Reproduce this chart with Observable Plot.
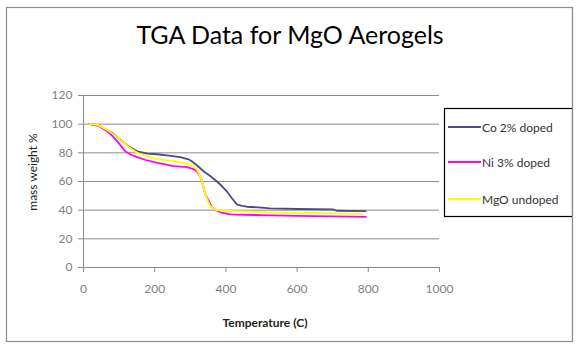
<!DOCTYPE html>
<html><head><meta charset="utf-8">
<script src="https://cdn.jsdelivr.net/npm/d3@7"></script>
<script src="https://cdn.jsdelivr.net/npm/@observablehq/plot@0.6"></script>
<style>
body{margin:0;background:#fff;}
#chart{position:relative;width:584px;height:352px;}
</style>
</head><body><div id="chart"></div>
<script>
const titleText = "TGA Data for MgO Aerogels";
const xLabel = "Temperature (C)";
const yLabel = "mass weight %";
const seriesNames = ["Co 2% doped", "Ni 3% doped", "MgO undoped"];
const seriesColors = ["#4a4a8c", "#ff00ff", "#ffff00"];
const xTicks = [0, 200, 400, 600, 800, 1000];
const yTicks = [0, 20, 40, 60, 80, 100, 120];

const coTemp = [16,40,58,80,100,114,130,151,180,207,240,272,295,305,320,338,355,375,390,403,418,431,445,459,500,524,600,700,711,793];
const coMass = [100,99.5,97,94,90,87,84,81,79.5,79,78,77,75.5,74,71,67,64,60,56.5,53,48,44,43,42.4,41.8,41.2,40.8,40.5,39.6,39.4];

const niTemp = [16,40,67,80,95,108,118,135,151,175,198,225,254,291,310,319,327,333,338,342,352,361,372,384,412,450,524,600,700,793];
const niMass = [100,99,95,92,88,84,81,78.5,77,75,73.5,72.2,70.7,70,68.5,67,64,60,55,51,46.5,42,40,38.5,37,36.8,36.4,36,35.6,35.3];

const mgTemp = [16,40,67,90,114,130,151,175,198,225,254,280,300,315,324,333,338,342,350,356,365,375,400,440,524,600,700,785];
const mgMass = [100,99.5,96,92,87,83.5,80,78,76,75,74,73,72,69.5,66,60,55,51,46,43,41,40,39.6,39.2,38.5,38.2,37.8,37.3];

const temps = [coTemp, niTemp, mgTemp];
const masses = [coMass, niMass, mgMass];
const data = [];
seriesNames.forEach((name, i) => {
  temps[i].forEach((t, j) => data.push({series: name, temp: t, mass: masses[i][j]}));
});

const W = 584, H = 352;
const plot = Plot.plot({
  width: W, height: H,
  marginLeft: 83, marginRight: 145, marginTop: 95, marginBottom: 85,
  style: {fontFamily: "Lato, 'Open Sans', sans-serif", fontSize: "12px", color: "#7f7f7f", background: "white"},
  x: {domain: [0, 1000], ticks: xTicks},
  y: {domain: [0, 120], ticks: yTicks},
  color: {domain: seriesNames, range: seriesColors},
  marks: [
    Plot.gridY(yTicks, {stroke: "#8c8c8c", strokeOpacity: 1, strokeWidth: 1}),
    Plot.ruleX([0], {stroke: "#8c8c8c"}),
    Plot.ruleY([0], {stroke: "#8c8c8c"}),
    Plot.axisX(xTicks, {tickSize: 5, tickPadding: 12, stroke: "#8c8c8c", fill: "#7f7f7f", label: null, fontSize: 12, tickFormat: d3.format("d")}),
    Plot.axisY(yTicks, {tickSize: 5, tickPadding: 6, stroke: "#8c8c8c", fill: "#7f7f7f", label: null, fontSize: 12, tickFormat: d3.format("d")}),
    Plot.line(data, {x: "temp", y: "mass", z: "series", stroke: "series", strokeWidth: 1.8, curve: "linear"})
  ]
});

const svg = d3.select(plot);
// outer chart border
svg.append("rect").attr("x", 6.5).attr("y", 7.5).attr("width", 566).attr("height", 334)
  .attr("fill", "none").attr("stroke", "#8c8c8c").attr("stroke-width", 1.2);
// title
svg.append("text").attr("x", 290).attr("y", 44).attr("text-anchor", "middle")
  .attr("font-family", "Lato, 'Open Sans', sans-serif").attr("font-size", 25).attr("fill", "#000")
  .text(titleText);
// axis labels
svg.append("text").attr("x", 265).attr("y", 327).attr("text-anchor", "middle")
  .attr("font-family", "Lato, sans-serif").attr("font-size", 12).attr("font-weight", "bold").attr("fill", "#222")
  .text(xLabel);
svg.append("text").attr("transform", "translate(37,172) rotate(-90)").attr("text-anchor", "middle")
  .attr("font-family", "Lato, sans-serif").attr("font-size", 12).attr("fill", "#222")
  .text(yLabel);
// legend
const lg = svg.append("g");
lg.append("rect").attr("x", 444.5).attr("y", 108.5).attr("width", 128).attr("height", 108)
  .attr("fill", "white").attr("stroke", "#000").attr("stroke-width", 1.2);
const legendY = [127, 162, 199];
seriesNames.forEach((name, i) => {
  lg.append("line").attr("x1", 448).attr("x2", 481).attr("y1", legendY[i]).attr("y2", legendY[i])
    .attr("stroke", seriesColors[i]).attr("stroke-width", 1.8);
  lg.append("text").attr("x", 482).attr("y", legendY[i] + 4.5).attr("text-anchor", "start")
    .attr("font-family", "Lato, sans-serif").attr("font-size", 12).attr("fill", "#333")
    .text(name);
});
// clip beyond outer border
svg.append("rect").attr("x", 573.2).attr("y", 0).attr("width", 12).attr("height", H).attr("fill", "white");
svg.append("line").attr("x1", 572.5).attr("x2", 572.5).attr("y1", 7).attr("y2", 342).attr("stroke", "#8c8c8c").attr("stroke-width", 1.2);

document.getElementById("chart").appendChild(plot);
</script>
</body></html>
